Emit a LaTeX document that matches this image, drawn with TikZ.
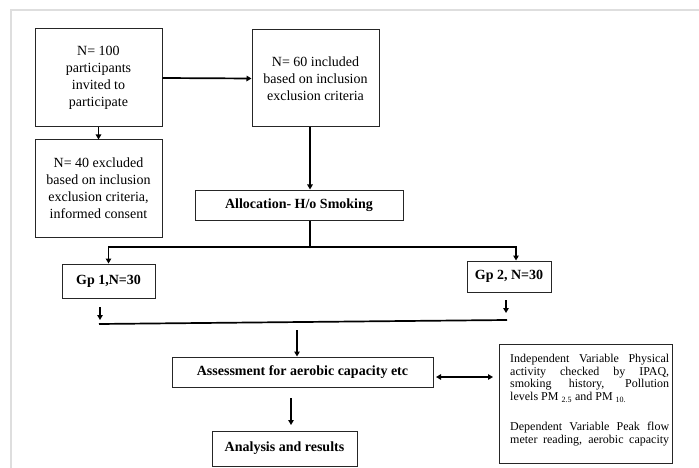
\documentclass[tikz,border=0pt]{standalone}
\usepackage{fontspec}
\setmainfont{Liberation Serif}
\usetikzlibrary{arrows.meta}
\begin{document}
\begin{tikzpicture}[x=1pt,y=-1pt,
  box/.style={draw=black!85, line width=1pt, inner sep=0pt, align=center,
    font=\fontsize{14}{17}\selectfont},
  bbox/.style={box, font=\fontsize{14}{17}\selectfont\bfseries},
  arr/.style={line width=1.7pt, -{Triangle[length=5pt,width=5.5pt]}},
  lin/.style={line width=1.7pt},
  darr/.style={line width=1.7pt, {Triangle[length=5pt,width=5.5pt]}-{Triangle[length=5pt,width=5.5pt]}}]
\useasboundingbox (0,0) rectangle (699,468);
\draw[black!13, line width=2pt] (11,468) -- (11,10) -- (699,10);

\node[box, minimum width=127pt, minimum height=98pt] (b1) at (98.5,78)
  {N= 100\\participants\\invited to\\participate};
\node[box, minimum width=127pt, minimum height=97pt] (b2) at (315.5,78.5)
  {N= 60 included\\based on inclusion\\exclusion criteria};
\node[box, minimum width=127pt, minimum height=97pt] (b3) at (98.5,188.5)
  {N= 40 excluded\\based on inclusion\\exclusion criteria,\\informed consent};
\node[bbox, minimum width=208pt, minimum height=30pt] (alloc) at (299,205)
  {Allocation- H/o Smoking};
\node[bbox, minimum width=93pt, minimum height=34pt] (gp1) at (108.5,281)
  {Gp 1,N=30};
\node[bbox, minimum width=84pt, minimum height=31pt] (gp2) at (509,276.5)
  {Gp 2, N=30};
\node[bbox, minimum width=261pt, minimum height=30pt] (assess) at (302.5,372)
  {Assessment for aerobic capacity etc};
\node[bbox, minimum width=145pt, minimum height=35pt] (anal) at (284.5,448.5)
  {Analysis and results};
\node[box, minimum width=173pt, minimum height=119pt] (rbox) at (585.5,403.5) {};
\node[anchor=north west, text width=159pt, inner sep=0pt, align=justify,
  font=\fontsize{12}{12.7}\selectfont] (rtext) at (510,354)
  {Independent Variable Physical\linebreak activity checked by IPAQ,\linebreak
   smoking history, Pollution\linebreak levels PM \textsubscript{2.5} and PM \textsubscript{10.}\par
   \vspace{17pt}Dependent Variable Peak flow\linebreak meter reading, aerobic capacity\parfillskip=0pt\par};

% connectors
\draw[arr] (b1.south) -- (b3.north);
\draw[arr] (b1.east) -- (b2.west);
\draw[arr] ([xshift=-5.5pt]b2.south) -- ([xshift=11pt]alloc.north);
\coordinate (split) at (310,247);
\draw[lin] ([xshift=11pt]alloc.south) -- (split);
\draw[arr] (split) -| (gp1.north);
\draw[arr] (split) -| ([xshift=7pt]gp2.north);

\coordinate (g1a) at (100,307);
\coordinate (g1b) at (100,320);
\coordinate (g2a) at (506,300);
\coordinate (g2b) at (506,313);
\draw[arr] (g1a) -- (g1b);
\draw[arr] (g2a) -- (g2b);
\coordinate (m1) at (99,324);
\coordinate (m2) at (507,320);
\draw[lin] (m1) -- (m2);
\coordinate (m3) at (297,330);
\draw[arr] (m3) -- ([xshift=-5.5pt]assess.north);
\coordinate (a1) at (291,398);
\coordinate (a2) at (291,425);
\draw[arr] (a1) -- (a2);
\coordinate (d1) at (436,377);
\coordinate (d2) at (493,377);
\draw[darr] (d1) -- (d2);
\end{tikzpicture}
\end{document}
